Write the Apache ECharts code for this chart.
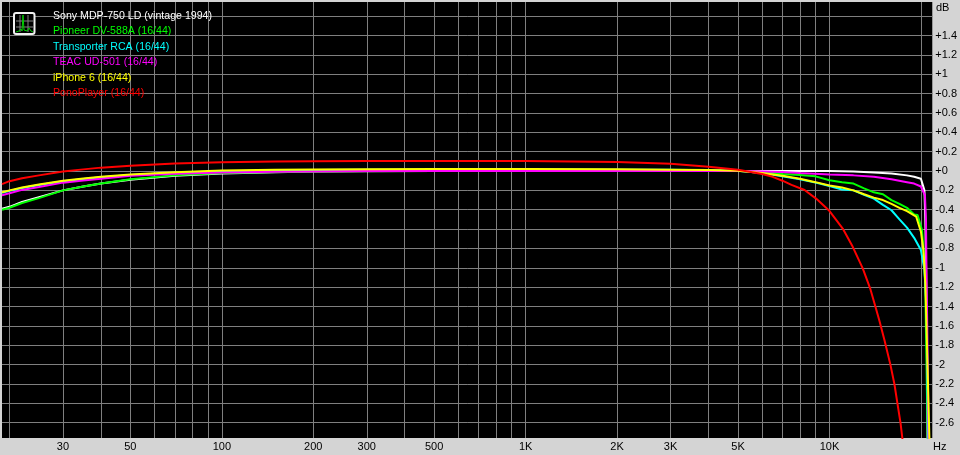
<!DOCTYPE html>
<html><head><meta charset="utf-8">
<style>html,body{margin:0;padding:0;background:#d4d4d4}#c{width:960px;height:455px}</style>
<script src="https://cdn.jsdelivr.net/npm/echarts@6/dist/echarts.min.js"></script>
</head><body><div id="c"></div>
<script>
var seriesNames = ['Sony MDP-750 LD (vintage 1994)','Pioneer DV-588A (16/44)','Transporter RCA (16/44)','TEAC UD-501 (16/44)','iPhone 6 (16/44)','PonoPlayer (16/44)'];
var seriesColors = ['#ffffff','#00ff00','#00ffff','#ff00ff','#ffff00','#ff0000'];
var gridFreqs = [20,30,40,50,60,70,80,90,100,200,300,400,500,600,700,800,900,1000,2000,3000,4000,5000,6000,7000,8000,9000,10000,20000];
var labelFreqs = [30,50,100,200,300,500,1000,2000,3000,5000,10000];
var dbTicks = [1.6,1.4,1.2,1,0.8,0.6,0.4,0.2,0,-0.2,-0.4,-0.6,-0.8,-1,-1.2,-1.4,-1.6,-1.8,-2,-2.2,-2.4,-2.6];

var lowFreq = [18.9,20,22,25,30,35,40,50,70,100,150,200,300,500,1000,2000,3000,4000,5000];
var whiteLow   = [-0.39,-0.37,-0.32,-0.27,-0.20,-0.16,-0.13,-0.09,-0.05,-0.025,-0.012,-0.006,-0.002,0,0,0,0,0,0];
var greenLow   = [-0.40,-0.38,-0.33,-0.28,-0.20,-0.16,-0.13,-0.085,-0.045,-0.02,-0.01,-0.005,0,0.003,0.005,0.005,0.005,0.004,0];
var cyanLow    = [-0.225,-0.205,-0.175,-0.145,-0.105,-0.083,-0.065,-0.04,-0.018,-0.002,0.005,0.01,0.012,0.014,0.015,0.014,0.012,0.008,0.002];
var magentaLow = [-0.25,-0.23,-0.195,-0.165,-0.12,-0.098,-0.08,-0.05,-0.028,-0.015,-0.008,-0.004,-0.001,0,0,0,0,0,0];
var yellowLow  = [-0.22,-0.20,-0.17,-0.14,-0.10,-0.078,-0.06,-0.035,-0.012,0.005,0.012,0.016,0.019,0.02,0.02,0.018,0.014,0.01,0.002];
var redLow     = [-0.135,-0.105,-0.075,-0.045,-0.005,0.017,0.035,0.055,0.078,0.09,0.098,0.102,0.104,0.104,0.103,0.092,0.075,0.045,0.014];

var whiteHighF   = [6000,8000,10000,12000,14000,16000,18000,19000,20000,20540,20680,20800,20950,21030];
var whiteHigh    = [0,0,0,-0.005,-0.015,-0.025,-0.045,-0.06,-0.08,-0.2,-0.5,-1.0,-2.0,-2.77];
var greenHighF   = [6000,7000,8000,9000,10000,11000,12000,13000,14000,15000,16000,17000,18000,19000,19500,20170,20540,20680,21050];
var greenHigh    = [-0.01,-0.03,-0.04,-0.055,-0.095,-0.115,-0.13,-0.18,-0.22,-0.24,-0.30,-0.34,-0.38,-0.45,-0.455,-0.61,-0.95,-1.23,-2.77];
var cyanHighF    = [6000,7000,8000,9000,10000,11000,12000,13000,14000,15000,16000,17000,18000,19000,20000,20540,20800,20900,21100];
var cyanHigh     = [-0.02,-0.055,-0.085,-0.12,-0.155,-0.19,-0.2,-0.245,-0.285,-0.35,-0.405,-0.50,-0.585,-0.69,-0.816,-1.02,-1.33,-1.54,-2.77];
var magentaHighF = [6000,7000,8000,10000,12000,14000,16000,18000,19000,20000,20620,20780,20840,20960,21200];
var magentaHigh  = [-0.005,-0.01,-0.02,-0.035,-0.045,-0.06,-0.085,-0.115,-0.13,-0.16,-0.25,-0.5,-0.9,-1.5,-2.77];
var yellowHighF  = [6000,7000,8000,9000,10000,11000,12000,13000,14000,15000,16000,17000,18000,19290,20000,20380,20680,20840,21330];
var yellowHigh   = [-0.02,-0.05,-0.08,-0.115,-0.15,-0.17,-0.2,-0.24,-0.275,-0.30,-0.34,-0.38,-0.415,-0.47,-0.627,-0.816,-1.16,-1.54,-2.77];
var redHighF     = [6000,6500,7000,7500,8280,9037,9950,11060,11930,12870,13610,14170,14610,15170,15870,16360,16740,17130,17390];
var redHigh      = [-0.03,-0.06,-0.10,-0.143,-0.196,-0.285,-0.405,-0.594,-0.783,-1.006,-1.212,-1.402,-1.55,-1.746,-2.0,-2.2,-2.4,-2.6,-2.77];

function pairs(fa, va, fb, vb){
  return fa.concat(fb).map(function(f,i){ return [f, va.concat(vb)[i]]; });
}
var seriesData = [
  pairs(lowFreq, whiteLow, whiteHighF, whiteHigh),
  pairs(lowFreq, greenLow, greenHighF, greenHigh),
  pairs(lowFreq, cyanLow, cyanHighF, cyanHigh),
  pairs(lowFreq, magentaLow, magentaHighF, magentaHigh),
  pairs(lowFreq, yellowLow, yellowHighF, yellowHigh),
  pairs(lowFreq, redLow, redHighF, redHigh)
];

var FONT = '"Liberation Sans", Arial, sans-serif';
var chart = echarts.init(document.getElementById('c'), null, {renderer:'canvas'});
chart.setOption({
  animation:false,
  backgroundColor:'#d4d4d4',
  grid:{left:2,top:2,right:27,bottom:17,backgroundColor:'#000',show:true,borderWidth:0},
  legend:{
    show:true, orient:'vertical', left:48, top:10, itemWidth:0, itemHeight:12, itemGap:4,
    selectedMode:false, padding:0,
    data:seriesNames.map(function(n,i){return {name:n,icon:'none',textStyle:{color:seriesColors[i],fontFamily:FONT,fontSize:10.6}};})
  },
  xAxis:{
    type:'log', logBase:10, min:18.9, max:21800,
    axisLine:{show:false},
    axisTick:{show:false,customValues:gridFreqs},
    axisLabel:{customValues:labelFreqs,color:'#000',fontFamily:FONT,fontSize:11,margin:3,hideOverlap:false,
      showMinLabel:true,showMaxLabel:true,
      formatter:function(v){return v>=1000?(Math.round(v/1000)+'K'):String(Math.round(v));}},
    splitLine:{show:true,lineStyle:{color:'#7f7f7f',width:1,type:'solid'}},
    minorTick:{show:false},minorSplitLine:{show:false}
  },
  yAxis:{
    type:'value', min:-2.758, max:1.746, position:'right',
    axisLine:{show:false},
    axisTick:{show:false,customValues:dbTicks},
    axisLabel:{customValues:dbTicks.slice(1),color:'#000',fontFamily:FONT,fontSize:11,margin:3,align:'left',
      formatter:function(v){var r=Math.round(v*10)/10;return (r>=0?'+':'')+r;}},
    splitLine:{show:true,lineStyle:{color:'#7f7f7f',width:1,type:'solid'}}
  },
  graphic:[
    {type:'text',left:936,top:2,style:{text:'dB',fill:'#000',font:'11px '+FONT}},
    {type:'text',left:933,top:441,style:{text:'Hz',fill:'#000',font:'11px '+FONT}},
    {type:'rect',shape:{x:14,y:13,width:20.5,height:21,r:2},style:{fill:'#000',stroke:'#f0f0f0',lineWidth:2},z:50},
    {type:'polyline',shape:{points:[[16,21],[33,21]]},style:{stroke:'#808080',fill:null,lineWidth:1},z:51},
    {type:'polyline',shape:{points:[[16,27],[33,27]]},style:{stroke:'#808080',fill:null,lineWidth:1},z:51},
    {type:'polyline',shape:{points:[[20,15],[20,32]]},style:{stroke:'#808080',fill:null,lineWidth:1},z:51},
    {type:'polyline',shape:{points:[[28,15],[28,32]]},style:{stroke:'#808080',fill:null,lineWidth:1},z:51},
    {type:'polyline',shape:{points:[[16,32],[19,31],[21,29],[22,31],[23,15],[24,30],[27,31],[29,28],[31,31],[33,32]]},style:{stroke:'#00d000',fill:null,lineWidth:1},z:52}
  ],
  series:seriesNames.map(function(n,i){
    return {name:n,type:'line',data:seriesData[i],showSymbol:false,symbol:'none',smooth:false,
      lineStyle:{color:seriesColors[i],width:2},itemStyle:{color:seriesColors[i]},z:10+i,silent:true};
  })
});
</script></body></html>
